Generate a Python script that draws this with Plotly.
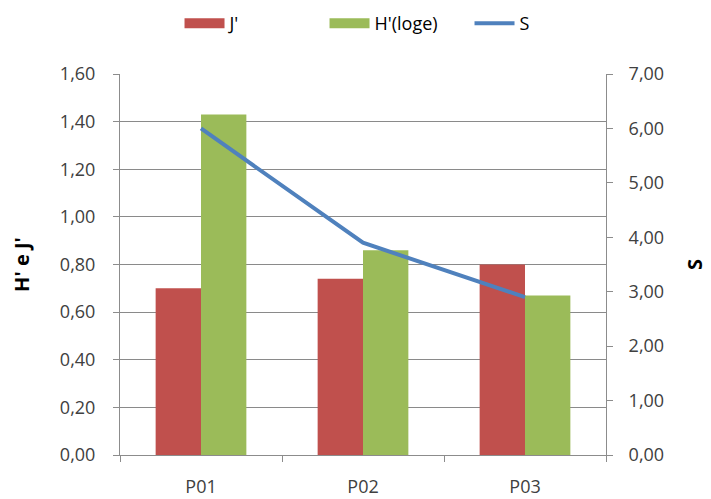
import plotly.graph_objects as go

categories = ["P01", "P02", "P03"]
j_values = [0.70, 0.74, 0.80]
h_values = [1.43, 0.86, 0.67]
s_values = [6.0, 3.9, 2.9]

left_ticks = [0.0, 0.2, 0.4, 0.6, 0.8, 1.0, 1.2, 1.4, 1.6]
right_ticks = [0, 1, 2, 3, 4, 5, 6, 7]

font_family = "Open Sans, Liberation Sans, sans-serif"
axis_color = "#8c8c8c"
text_color = "#404040"
j_color = "#c0504d"
h_color = "#9bbb59"
s_color = "#4f81bd"

fig = go.Figure()
fig.add_trace(go.Bar(x=categories, y=j_values, name="J'", marker_color=j_color,
                     marker_line_width=0, showlegend=False, legendgroup="j"))
fig.add_trace(go.Bar(x=categories, y=h_values, name="H'(loge)", marker_color=h_color,
                     marker_line_width=0, showlegend=False, legendgroup="h"))
fig.add_trace(go.Scatter(x=categories, y=s_values, name="S", mode="lines",
                         line=dict(color=s_color, width=4), yaxis="y2",
                         showlegend=False, legendgroup="s"))

# Legend keys: wide rectangles for the bar series, a line for S
for name, color, width, group in [("J'", j_color, 15, "j"),
                                  ("H'(loge)", h_color, 15, "h"),
                                  ("S", s_color, 4, "s")]:
    fig.add_trace(go.Scatter(x=[None], y=[None], name=name, mode="lines",
                             line=dict(color=color, width=width),
                             legendgroup=group, showlegend=True))

fig.update_layout(
    width=711, height=499,
    margin=dict(l=120, r=105, t=74, b=44),
    paper_bgcolor="white", plot_bgcolor="white",
    separators=",.",
    barmode="group", bargap=0.44, bargroupgap=0,
    font=dict(family=font_family, size=18, color=text_color),
    showlegend=True,
    legend=dict(orientation="h", x=0.57, xanchor="center", y=0.99, yanchor="top",
                yref="container", font=dict(size=18, color="#000000"),
                itemwidth=40, traceorder="normal",
                entrywidth=90, entrywidthmode="pixels"),
    xaxis=dict(type="category", showline=True, linecolor=axis_color, linewidth=1,
               ticks="outside", tickson="boundaries", ticklen=6, tickcolor=axis_color,
               tickfont=dict(size=18), showgrid=False, ticklabelstandoff=15,
               automargin=False),
    yaxis=dict(range=[0, 1.6], tickvals=left_ticks, tickformat=".2f",
               showline=True, linecolor=axis_color, ticks="outside", ticklen=6,
               tickcolor=axis_color, showgrid=True, gridcolor="#8a8a8a", gridwidth=1,
               zeroline=False, tickfont=dict(size=18), ticklabelstandoff=14,
               automargin=False,
               title=dict(text="<b>H' e J'</b>", font=dict(size=20, color="#000000"),
                          standoff=24)),
    yaxis2=dict(range=[0, 7], tickvals=right_ticks, tickformat=".2f", overlaying="y",
                side="right", showline=True, linecolor=axis_color, ticks="outside",
                ticklen=6, tickcolor=axis_color, showgrid=False, zeroline=False,
                tickfont=dict(size=18), ticklabelstandoff=12, automargin=False,
                title=dict(text="<b>S</b>", font=dict(size=20, color="#000000"),
                           standoff=24)),
)

fig.write_html("out.html")
